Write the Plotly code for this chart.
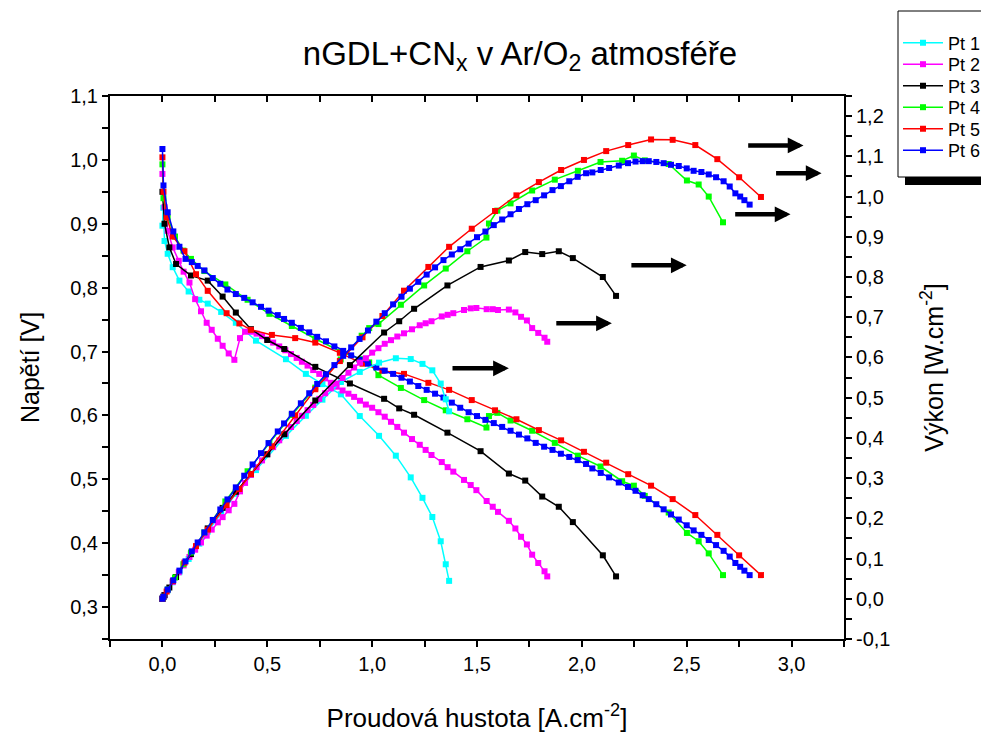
import plotly.graph_objects as go

# ---------------- data ----------------
SERIES = ["Pt 1", "Pt 2", "Pt 3", "Pt 4", "Pt 5", "Pt 6"]
COLORS = ["#00FFFF", "#FF00FF", "#000000", "#00FF00", "#FF0000", "#0000FF"]

# Pt 1 (cyan)
pt1_i = [0.0, 0.004, 0.01, 0.025, 0.049, 0.081, 0.125, 0.176, 0.216, 0.28, 0.35, 0.446, 0.589,
         0.684, 0.763, 0.851, 0.941, 1.033, 1.113, 1.184, 1.24, 1.287, 1.327, 1.351, 1.367]
pt1_v = [0.897, 0.925, 0.873, 0.853, 0.832, 0.811, 0.794, 0.781, 0.775, 0.762, 0.745, 0.717, 0.688,
         0.665, 0.649, 0.633, 0.599, 0.568, 0.537, 0.503, 0.471, 0.441, 0.403, 0.367, 0.341]
pt1_p = [0.0, 0.004, 0.009, 0.021, 0.041, 0.066, 0.099, 0.137, 0.167, 0.213, 0.261, 0.320, 0.405,
         0.455, 0.495, 0.539, 0.564, 0.587, 0.598, 0.596, 0.584, 0.568, 0.535, 0.496, 0.466]

# Pt 2 (magenta)
pt2_i = [0.0, 0.01, 0.025, 0.049, 0.078, 0.101, 0.129, 0.156, 0.184, 0.211, 0.235, 0.264, 0.287,
         0.316, 0.343, 0.37, 0.394, 0.422, 0.449, 0.475, 0.5, 0.528, 0.557, 0.586, 0.613, 0.64,
         0.665, 0.692, 0.719, 0.748, 0.776, 0.803, 0.83, 0.859, 0.887, 0.914, 0.942, 0.97, 1.0,
         1.03, 1.06, 1.09, 1.12, 1.152, 1.19, 1.227, 1.255, 1.283, 1.332, 1.36, 1.387, 1.438,
         1.47, 1.497, 1.546, 1.575, 1.6, 1.652, 1.683, 1.71, 1.738, 1.763, 1.792, 1.822, 1.835]
pt2_v = [0.978, 0.926, 0.889, 0.863, 0.842, 0.825, 0.808, 0.782, 0.763, 0.745, 0.734, 0.720, 0.709,
         0.697, 0.687, 0.721, 0.731, 0.731, 0.728, 0.724, 0.719, 0.714, 0.708, 0.702, 0.696, 0.690,
         0.684, 0.678, 0.671, 0.665, 0.658, 0.651, 0.645, 0.639, 0.634, 0.629, 0.623, 0.617, 0.612,
         0.605, 0.598, 0.590, 0.582, 0.573, 0.563, 0.554, 0.546, 0.538, 0.527, 0.519, 0.512, 0.499,
         0.491, 0.483, 0.466, 0.457, 0.449, 0.435, 0.423, 0.410, 0.398, 0.382, 0.369, 0.356, 0.348]
pt2_p = [0.0, 0.009, 0.022, 0.042, 0.066, 0.083, 0.104, 0.122, 0.140, 0.157, 0.172, 0.190, 0.203,
         0.220, 0.236, 0.267, 0.288, 0.308, 0.327, 0.344, 0.360, 0.377, 0.394, 0.411, 0.427, 0.442,
         0.455, 0.469, 0.482, 0.497, 0.511, 0.523, 0.535, 0.549, 0.562, 0.575, 0.587, 0.598, 0.612,
         0.623, 0.634, 0.643, 0.652, 0.660, 0.670, 0.680, 0.685, 0.690, 0.702, 0.706, 0.710, 0.718,
         0.722, 0.723, 0.720, 0.720, 0.718, 0.719, 0.712, 0.701, 0.692, 0.673, 0.661, 0.649, 0.639]

# Pt 3 (black)
pt3_i = [0.0, 0.01, 0.033, 0.065, 0.136, 0.216, 0.287, 0.35, 0.422, 0.50, 0.581, 0.729, 0.894,
         1.057, 1.129, 1.2, 1.359, 1.517, 1.652, 1.73, 1.811, 1.89, 1.957, 2.1, 2.163]
pt3_v = [0.950, 0.900, 0.863, 0.837, 0.819, 0.811, 0.786, 0.761, 0.735, 0.718, 0.704, 0.676, 0.650,
         0.626, 0.611, 0.601, 0.573, 0.544, 0.509, 0.498, 0.473, 0.457, 0.433, 0.381, 0.348]
pt3_p = [0.0, 0.009, 0.028, 0.054, 0.111, 0.175, 0.226, 0.266, 0.310, 0.359, 0.409, 0.493, 0.581,
         0.662, 0.690, 0.721, 0.779, 0.825, 0.841, 0.862, 0.857, 0.864, 0.847, 0.800, 0.753]

# Pt 4 (green)
pt4_i = [0.0, 0.005, 0.025, 0.06, 0.1, 0.136, 0.2, 0.3, 0.406, 0.51, 0.617, 0.729, 0.85, 0.95,
         0.986, 1.03, 1.137, 1.248, 1.351, 1.454, 1.545, 1.557, 1.597, 1.66, 1.763, 1.871, 1.981,
         2.089, 2.192, 2.248, 2.30, 2.414, 2.501, 2.557, 2.605, 2.673]
pt4_v = [0.993, 0.940, 0.910, 0.880, 0.858, 0.845, 0.826, 0.805, 0.781, 0.759, 0.740, 0.720, 0.700,
         0.688, 0.683, 0.663, 0.643, 0.624, 0.608, 0.594, 0.581, 0.599, 0.604, 0.592, 0.576, 0.557,
         0.537, 0.520, 0.497, 0.490, 0.474, 0.448, 0.416, 0.403, 0.384, 0.350]
pt4_p = [0.0, 0.005, 0.023, 0.053, 0.086, 0.115, 0.165, 0.242, 0.317, 0.387, 0.457, 0.525, 0.595,
         0.654, 0.673, 0.683, 0.731, 0.779, 0.821, 0.864, 0.898, 0.933, 0.965, 0.983, 1.015, 1.042,
         1.064, 1.086, 1.089, 1.102, 1.090, 1.081, 1.040, 1.030, 1.000, 0.936]

# Pt 5 (red)
pt5_i = [0.0, 0.005, 0.02, 0.05, 0.105, 0.16, 0.216, 0.306, 0.367, 0.422, 0.522, 0.633, 0.729,
         0.846, 0.954, 1.049, 1.152, 1.268, 1.367, 1.475, 1.586, 1.688, 1.795, 1.901, 2.01, 2.116,
         2.221, 2.33, 2.433, 2.541, 2.646, 2.75, 2.854]
pt5_v = [1.004, 0.950, 0.910, 0.880, 0.857, 0.821, 0.795, 0.760, 0.744, 0.734, 0.726, 0.721, 0.714,
         0.698, 0.681, 0.670, 0.665, 0.651, 0.640, 0.624, 0.608, 0.594, 0.577, 0.561, 0.543, 0.526,
         0.508, 0.490, 0.469, 0.444, 0.413, 0.381, 0.350]
pt5_p = [0.0, 0.005, 0.018, 0.044, 0.090, 0.131, 0.172, 0.233, 0.273, 0.310, 0.379, 0.456, 0.521,
         0.591, 0.650, 0.703, 0.766, 0.825, 0.875, 0.920, 0.964, 1.003, 1.036, 1.066, 1.091, 1.113,
         1.128, 1.142, 1.141, 1.128, 1.093, 1.048, 0.999]

# Pt 6 (blue)
pt6_i = [0.0, 0.005, 0.025, 0.052, 0.081, 0.11, 0.14, 0.168, 0.2, 0.24, 0.276, 0.31, 0.35, 0.39,
         0.43, 0.47, 0.506, 0.55, 0.58, 0.617, 0.66, 0.70, 0.738, 0.78, 0.82, 0.862, 0.90, 0.94,
         0.98, 1.02, 1.06, 1.10, 1.14, 1.18, 1.22, 1.26, 1.30, 1.34, 1.38, 1.42, 1.46, 1.50, 1.54,
         1.58, 1.62, 1.66, 1.70, 1.74, 1.78, 1.82, 1.86, 1.90, 1.94, 1.98, 2.02, 2.05, 2.09, 2.13,
         2.176, 2.22, 2.256, 2.29, 2.319, 2.355, 2.39, 2.425, 2.462, 2.50, 2.533, 2.57, 2.605,
         2.64, 2.676, 2.705, 2.732, 2.755, 2.775, 2.80]
pt6_v = [1.017, 0.960, 0.918, 0.888, 0.864, 0.845, 0.840, 0.834, 0.827, 0.815, 0.806, 0.797, 0.790,
         0.784, 0.777, 0.770, 0.764, 0.757, 0.751, 0.745, 0.737, 0.730, 0.723, 0.716, 0.708, 0.701,
         0.694, 0.687, 0.681, 0.675, 0.670, 0.665, 0.659, 0.653, 0.646, 0.640, 0.634, 0.628, 0.620,
         0.612, 0.605, 0.599, 0.593, 0.588, 0.582, 0.576, 0.570, 0.564, 0.557, 0.551, 0.546, 0.540,
         0.535, 0.530, 0.524, 0.517, 0.510, 0.503, 0.495, 0.488, 0.482, 0.475, 0.469, 0.461, 0.453,
         0.445, 0.437, 0.428, 0.420, 0.413, 0.405, 0.397, 0.388, 0.379, 0.369, 0.363, 0.357, 0.350]
pt6_p = [0.0, 0.005, 0.023, 0.046, 0.070, 0.093, 0.118, 0.140, 0.165, 0.196, 0.222, 0.247, 0.277,
         0.306, 0.334, 0.362, 0.387, 0.416, 0.436, 0.460, 0.486, 0.511, 0.534, 0.558, 0.581, 0.604,
         0.625, 0.646, 0.667, 0.689, 0.710, 0.732, 0.751, 0.771, 0.788, 0.806, 0.824, 0.842, 0.856,
         0.869, 0.883, 0.899, 0.913, 0.929, 0.943, 0.956, 0.969, 0.981, 0.991, 1.003, 1.016, 1.026,
         1.038, 1.049, 1.058, 1.060, 1.066, 1.071, 1.077, 1.083, 1.087, 1.088, 1.088, 1.086, 1.083,
         1.079, 1.076, 1.070, 1.064, 1.061, 1.055, 1.048, 1.038, 1.025, 1.008, 1.000, 0.991, 0.980]

CURRENTS = [pt1_i, pt2_i, pt3_i, pt4_i, pt5_i, pt6_i]
VOLTAGES = [pt1_v, pt2_v, pt3_v, pt4_v, pt5_v, pt6_v]
POWERS = [pt1_p, pt2_p, pt3_p, pt4_p, pt5_p, pt6_p]

# arrows: (tail current, tip current, power level) -> point toward the power axis
ARROWS = [(2.786, 3.057, 1.127), (2.919, 3.143, 1.058), (2.724, 2.995, 0.956),
          (2.229, 2.500, 0.829), (1.871, 2.143, 0.685), (1.376, 1.652, 0.573)]

X_TICKS = [0.0, 0.5, 1.0, 1.5, 2.0, 2.5, 3.0]
X_TICK_LABELS = ["0,0", "0,5", "1,0", "1,5", "2,0", "2,5", "3,0"]
Y_TICKS = [0.3, 0.4, 0.5, 0.6, 0.7, 0.8, 0.9, 1.0, 1.1]
Y_TICK_LABELS = ["0,3", "0,4", "0,5", "0,6", "0,7", "0,8", "0,9", "1,0", "1,1"]
Y2_TICKS = [-0.1, 0.0, 0.1, 0.2, 0.3, 0.4, 0.5, 0.6, 0.7, 0.8, 0.9, 1.0, 1.1, 1.2]
Y2_TICK_LABELS = ["-0,1", "0,0", "0,1", "0,2", "0,3", "0,4", "0,5", "0,6", "0,7", "0,8",
                  "0,9", "1,0", "1,1", "1,2"]

TITLE = "nGDL+CN<sub>x</sub> v Ar/O<sub>2</sub> atmosféře"
X_TITLE = "Proudová hustota [A.cm<sup>-2</sup>]"
Y_TITLE = "Napětí [V]"
Y2_TITLE = "Výkon [W.cm<sup>-2</sup>]"

FONT = "Arial, 'Liberation Sans', sans-serif"

# figure size and plot-area geometry (pixels, figure coords; page has an 8px body margin)
W, H = 981, 725
L, R, T, B = 102, 836, 88, 631
PW, PH = R - L, B - T


def px_x(x):
    return (x - L) / PW


def px_y(y):
    return (B - y) / PH


# legend entry centres (figure px) and box
LEG_LEFT = 890
LEG_Y = [35, 56.5, 78, 99.5, 121, 142.5]

# ---------------- figure ----------------
fig = go.Figure()
for k, name in enumerate(SERIES):
    leg = "legend" if k == 0 else f"legend{k + 1}"
    fig.add_trace(go.Scatter(
        x=CURRENTS[k], y=VOLTAGES[k], name=name, legend=leg,
        mode="lines+markers", line=dict(color=COLORS[k], width=1.5),
        marker=dict(symbol="square", size=6, color=COLORS[k]),
        xaxis="x", yaxis="y", showlegend=True))
    fig.add_trace(go.Scatter(
        x=CURRENTS[k], y=POWERS[k], name=name, legend=leg,
        mode="lines+markers", line=dict(color=COLORS[k], width=1.5),
        marker=dict(symbol="square", size=6, color=COLORS[k]),
        xaxis="x", yaxis="y2", showlegend=False))

# invisible trace to hold the top mirror axis
fig.add_trace(go.Scatter(x=[X_TICKS[0]], y=[Y_TICKS[0]], xaxis="x2", yaxis="y",
                         mode="markers", marker=dict(opacity=0), showlegend=False,
                         hoverinfo="skip"))

for tail_x, tip_x, level in ARROWS:
    fig.add_annotation(x=tip_x, y=level, ax=tail_x, ay=level,
                       xref="x", yref="y2", axref="x", ayref="y2",
                       text="", showarrow=True, arrowhead=2, arrowsize=0.7,
                       arrowwidth=4.5, arrowcolor="black", standoff=0)

axis_common = dict(showline=True, linecolor="black", linewidth=2, showgrid=False,
                   zeroline=False, tickcolor="black", tickwidth=1.5, automargin=False,
                   tickfont=dict(family=FONT, size=20, color="black"))

legend_layouts = {}
for k in range(len(SERIES)):
    key = "legend" if k == 0 else f"legend{k + 1}"
    legend_layouts[key] = dict(x=px_x(LEG_LEFT), y=px_y(LEG_Y[k]), xanchor="left",
                               yanchor="middle", bgcolor="rgba(0,0,0,0)", borderwidth=0,
                               font=dict(family=FONT, size=18, color="black"),
                               itemwidth=40)

fig.update_layout(
    width=W, height=H,
    paper_bgcolor="white", plot_bgcolor="white",
    margin=dict(l=L, r=W - R, t=T, b=H - B, autoexpand=False),
    font=dict(family=FONT, color="black"),
    title=dict(text=TITLE, font=dict(family=FONT, size=33, color="black"),
               x=px_x(512), xref="paper", xanchor="center",
               y=1 - 45 / H, yref="container", yanchor="middle"),
    xaxis=dict(range=[-0.25, 3.25], tickmode="array", tickvals=X_TICKS, ticktext=X_TICK_LABELS,
               ticks="outside", ticklen=6,
               minor=dict(tickmode="linear", tick0=0, dtick=0.25, ticks="outside", ticklen=6,
                          tickcolor="black", tickwidth=1.5),
               title=dict(text=X_TITLE, font=dict(family=FONT, size=26, color="black"), standoff=35),
               **axis_common),
    xaxis2=dict(range=[-0.25, 3.25], overlaying="x", side="top", matches="x",
                tickmode="array", tickvals=X_TICKS, showticklabels=False,
                ticks="inside", ticklen=6,
                minor=dict(tickmode="linear", tick0=0, dtick=0.25, ticks="inside", ticklen=6,
                           tickcolor="black", tickwidth=1.5),
                **axis_common),
    yaxis=dict(range=[0.25, 1.1], tickmode="array", tickvals=Y_TICKS, ticktext=Y_TICK_LABELS,
               ticks="outside", ticklen=6,
               minor=dict(tickmode="linear", tick0=0, dtick=0.05, ticks="outside", ticklen=6,
                          tickcolor="black", tickwidth=1.5),
               title=dict(text=Y_TITLE, font=dict(family=FONT, size=25, color="black"), standoff=23),
               **axis_common),
    yaxis2=dict(range=[-0.1, 1.25], overlaying="y", side="right",
                tickmode="array", tickvals=Y2_TICKS, ticktext=Y2_TICK_LABELS,
                ticks="outside", ticklen=6,
                minor=dict(tickmode="linear", tick0=0, dtick=0.05, ticks="outside", ticklen=6,
                           tickcolor="black", tickwidth=1.5),
                title=dict(text=Y2_TITLE, font=dict(family=FONT, size=25, color="black"), standoff=36),
                **axis_common),
    showlegend=True,
    **legend_layouts,
)

# legend drop shadow and framed box
fig.add_shape(type="rect", xref="paper", yref="paper",
              x0=px_x(897), x1=px_x(995), y0=px_y(177), y1=px_y(10),
              fillcolor="black", line=dict(width=0), layer="below")
fig.add_shape(type="rect", xref="paper", yref="paper",
              x0=px_x(890), x1=px_x(978), y0=px_y(169), y1=px_y(3),
              fillcolor="white", line=dict(color="black", width=1), layer="below")

fig.write_html("out.html")
